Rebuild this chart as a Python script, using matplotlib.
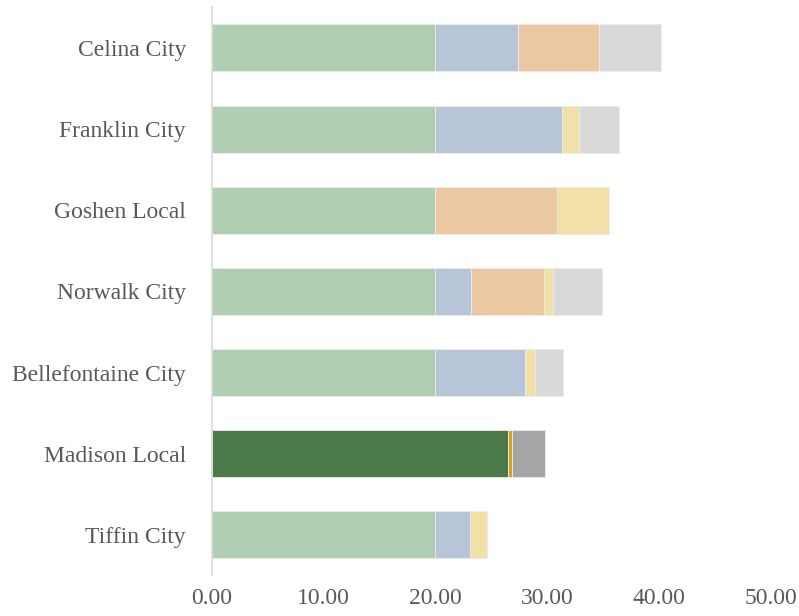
import matplotlib.pyplot as plt
import numpy as np

districts = ["Celina City", "Franklin City", "Goshen Local", "Norwalk City",
             "Bellefontaine City", "Madison Local", "Tiffin City"]
base = [20.0, 20.0, 20.0, 20.0, 20.0, 26.5, 20.0]
blue = [7.4, 11.3, 0.0, 3.2, 8.0, 0.0, 3.1]
orange = [7.2, 0.0, 10.9, 6.5, 0.0, 0.0, 0.0]
yellow = [0.0, 1.5, 4.6, 0.8, 0.9, 0.3, 1.5]
gray = [5.6, 3.6, 0.0, 4.4, 2.5, 3.0, 0.0]

light = {"base": "#b0cfb2", "blue": "#b8c4d8", "orange": "#ecc8a2",
         "yellow": "#f1e0a8", "gray": "#d9d9d9"}
highlight = {"base": "#4a7a4a", "blue": "#8497b0", "orange": "#c55a11",
             "yellow": "#d4a51c", "gray": "#a6a6a6"}
focus = "Madison Local"

plt.rcParams['font.family'] = ['Liberation Serif', 'DejaVu Serif']

fig = plt.figure(figsize=(7.99, 6.16), dpi=100)
ax = fig.add_axes([0.265, 0.066, 0.700, 0.922])

y = np.arange(len(districts))[::-1]
left = np.zeros(len(districts))
for key, vals in [("base", base), ("blue", blue), ("orange", orange),
                  ("yellow", yellow), ("gray", gray)]:
    vals = np.array(vals)
    colors = [highlight[key] if d == focus else light[key] for d in districts]
    ax.barh(y, vals, left=left, height=0.58, color=colors,
            edgecolor="#ececec", linewidth=0.6)
    left += vals

ax.set_xlim(0, 50)
ax.set_ylim(-0.5, len(districts) - 0.5)
ax.set_yticks(y)
ax.set_yticklabels(districts)
ax.set_xticks(np.arange(0, 51, 10))
ax.set_xticklabels(["{:.2f}".format(v) for v in np.arange(0, 51, 10)])
ax.tick_params(axis="both", length=0, labelsize=17, colors="#595959")
ax.tick_params(axis="y", pad=18.5)
ax.tick_params(axis="x", pad=9)
for s in ["top", "right", "bottom"]:
    ax.spines[s].set_visible(False)
ax.spines["left"].set_color("#d9d9d9")
ax.spines["left"].set_linewidth(1.2)

fig.savefig("out.png", dpi=100)
